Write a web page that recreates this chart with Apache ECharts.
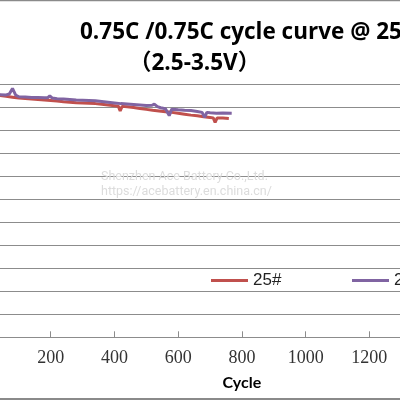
<!DOCTYPE html>
<html>
<head>
<meta charset="utf-8">
<script src="https://cdn.jsdelivr.net/npm/echarts@6/dist/echarts.min.js"></script>
<style>html,body{margin:0;padding:0;background:#fff}#c{width:400px;height:400px}</style>
</head>
<body>
<div id="c"></div>
<script>
const titleLine1 = '0.75C /0.75C cycle curve @ 25\u2103';
const titleLine2 = '\uFF082.5-3.5V\uFF09';
const xName = 'Cycle';
const seriesNames = ['25#', '26#'];
const xTicks = [0, 200, 400, 600, 800, 1000, 1200, 1400, 1600];

const redCycles = [0,20,40,60,80,100,120,140,160,180,200,220,240,260,280,300,320,340,360,380,400,412,418,424,440,460,480,500,520,540,560,580,600,620,640,660,680,700,710,716,722,740,759];
const redValues = [105.8,105.6,105.2,104.8,104.4,104.0,103.8,103.6,103.4,103.2,103.0,102.7,102.4,102.2,102.0,101.9,101.8,101.6,101.3,101.0,100.7,100.5,98.4,100.4,100.2,99.9,99.5,99.1,98.7,98.4,98.1,97.8,97.4,97.0,96.6,96.3,95.9,95.6,95.4,93.4,95.3,95.3,95.1];

const purpleCycles = [0,20,40,60,70,80,90,100,120,140,160,180,190,197,205,220,240,260,280,300,320,340,360,380,400,420,440,460,480,500,518,525,535,545,560,572,580,600,620,640,660,675,683,690,700,720,740,768];
const purpleValues = [105.8,105.7,105.5,105.4,105.8,108.2,105.3,104.6,104.5,104.3,104.3,104.2,104.1,105.0,104.0,103.7,103.6,103.4,103.2,103.1,103.0,102.8,102.5,102.2,101.9,101.6,101.4,101.2,101.0,100.8,100.9,101.4,100.3,99.8,99.4,96.4,99.2,98.9,98.7,98.6,98.2,97.8,95.6,97.8,97.6,97.4,97.5,97.4];

const pair = (xs, ys) => xs.map((x, i) => [x, ys[i]]);
const RED = '#c0504d', PURPLE = '#8064a2', GRID = '#8c8c8c';

const chart = echarts.init(document.getElementById('c'), null, {renderer: 'canvas'});
chart.setOption({
  animation: false,
  backgroundColor: '#fff',
  title: [
    {text: titleLine1, left: 80, top: 21, padding: 0,
     textStyle: {fontFamily: '"Open Sans", "Noto Sans CJK SC"', fontWeight: 'bold', fontSize: 22.5, color: '#000'}},
    {text: titleLine2, left: 129, top: 52, padding: 0,
     textStyle: {fontFamily: '"Open Sans", "Noto Sans CJK SC"', fontWeight: 'bold', fontSize: 22.5, color: '#000'}}
  ],
  legend: [
    {data: [seriesNames[0]], left: 211, top: 272, padding: 0, icon: 'rect', itemWidth: 37, itemHeight: 3,
     textStyle: {fontFamily: '"Liberation Sans", sans-serif', fontSize: 17, color: '#222'}},
    {data: [seriesNames[1]], left: 352, top: 272, padding: 0, icon: 'rect', itemWidth: 37, itemHeight: 3,
     textStyle: {fontFamily: '"Liberation Sans", sans-serif', fontSize: 17, color: '#222'}}
  ],
  grid: {left: -13, right: -96.8, top: 84.3, bottom: 62.7, containLabel: false, outerBoundsMode: 'none'},
  xAxis: {
    type: 'value', min: xTicks[0], max: xTicks[xTicks.length - 1], interval: 200,
    name: xName, nameLocation: 'middle', nameGap: 38,
    nameTextStyle: {fontFamily: 'Lato, "Open Sans", sans-serif', fontWeight: 'bold', fontSize: 16, color: '#000'},
    axisLine: {show: true, lineStyle: {color: GRID, width: 1}},
    axisTick: {show: true, inside: true, length: 6, lineStyle: {color: GRID}},
    axisLabel: {margin: 12, fontFamily: '"Liberation Serif", serif', fontSize: 18, color: '#333',
                formatter: v => String(v)},
    splitLine: {show: false}
  },
  yAxis: {
    type: 'value', min: 0, max: 110, interval: 10,
    axisLine: {show: false}, axisTick: {show: false}, axisLabel: {show: false},
    splitLine: {show: true, lineStyle: {color: GRID, width: 1}}
  },
  series: [
    {name: seriesNames[0], type: 'line', data: pair(redCycles, redValues), showSymbol: false, symbol: 'none',
     lineStyle: {color: RED, width: 3}, itemStyle: {color: RED}},
    {name: seriesNames[1], type: 'line', data: pair(purpleCycles, purpleValues), showSymbol: false, symbol: 'none',
     lineStyle: {color: PURPLE, width: 3}, itemStyle: {color: PURPLE}}
  ],
  graphic: [
    {type: 'line', shape: {x1: 0, y1: 0.5, x2: 400, y2: 0.5}, style: {stroke: '#8a8a8a', lineWidth: 1.5}},
    {type: 'line', shape: {x1: 0, y1: 399, x2: 400, y2: 399}, style: {stroke: '#8a8a8a', lineWidth: 2}},
    {type: 'text', left: 101, top: 170, z: 10, silent: true,
     style: {text: 'Shenzhen Ace Battery Co.,Ltd.', fill: '#dcdcdc', font: '12.5px Roboto'}},
    {type: 'text', left: 101, top: 185, z: 10, silent: true,
     style: {text: 'https://acebattery.en.china.cn/', fill: '#dcdcdc', font: '12.5px Roboto'}}
  ]
});
</script>
</body>
</html>
